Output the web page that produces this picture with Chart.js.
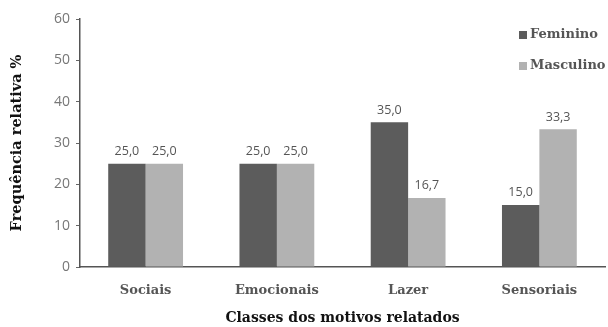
<!DOCTYPE html>
<html>
<head>
<meta charset="utf-8">
<script src="https://cdn.jsdelivr.net/npm/chart.js@4/dist/chart.umd.min.js"></script>
<style>
  html, body { margin: 0; padding: 0; background: #fff; }
  #wrap { width: 608px; height: 327px; position: relative; }
</style>
</head>
<body>
<div id="wrap"><canvas id="c" width="608" height="327"></canvas></div>
<script>
// Motive classes and relative frequency (%) by sex
const categories = ['Sociais', 'Emocionais', 'Lazer', 'Sensoriais'];
const feminino = [25.0, 25.0, 35.0, 15.0];
const masculino = [25.0, 25.0, 16.7, 33.3];
const yTicks = [0, 10, 20, 30, 40, 50, 60];

const DARK = '#5c5c5c';
const LIGHT = '#b2b2b2';
const SANS = '"Open Sans", "DejaVu Sans", sans-serif';
const SERIF = '"DejaVu Serif", "Liberation Serif", serif';

// Value labels above each bar, with decimal comma
const valueLabels = {
  id: 'valueLabels',
  afterDatasetsDraw(chart) {
    const ctx = chart.ctx;
    ctx.save();
    ctx.font = '12.5px ' + SANS;
    ctx.fillStyle = '#555';
    ctx.textAlign = 'center';
    ctx.textBaseline = 'bottom';
    chart.data.datasets.forEach((ds, i) => {
      chart.getDatasetMeta(i).data.forEach((bar, j) => {
        const txt = ds.data[j].toFixed(1).replace('.', ',');
        ctx.fillText(txt, bar.x, bar.y - 6);
      });
    });
    ctx.restore();
  }
};

// Legend drawn inside the plot, top-right corner
const innerLegend = {
  id: 'innerLegend',
  afterDraw(chart) {
    const ctx = chart.ctx;
    ctx.save();
    ctx.font = 'bold 13px ' + SERIF;
    ctx.textBaseline = 'middle';
    ctx.textAlign = 'left';
    const x = 519, ys = [35, 66];
    chart.data.datasets.forEach((ds, i) => {
      ctx.fillStyle = ds.backgroundColor;
      ctx.fillRect(x, ys[i] - 4, 8, 8);
      ctx.fillStyle = '#555';
      ctx.fillText(ds.label, x + 11, ys[i]);
    });
    ctx.restore();
  }
};

new Chart(document.getElementById('c'), {
  type: 'bar',
  data: {
    labels: categories,
    datasets: [
      { label: 'Feminino', data: feminino, backgroundColor: DARK },
      { label: 'Masculino', data: masculino, backgroundColor: LIGHT }
    ]
  },
  plugins: [valueLabels, innerLegend],
  options: {
    responsive: false,
    animation: false,
    devicePixelRatio: 1,
    layout: { padding: { top: 19, right: 3, left: 5, bottom: 0 } },
    plugins: {
      legend: { display: false },
      tooltip: { enabled: false }
    },
    datasets: {
      bar: { categoryPercentage: 0.57, barPercentage: 1.0 }
    },
    scales: {
      x: {
        grid: { display: false, drawTicks: false },
        border: { color: '#555', width: 1.5 },
        ticks: {
          font: { family: SERIF, size: 13, weight: 'bold' },
          color: '#555',
          padding: 16
        },
        title: {
          display: true,
          text: 'Classes dos motivos relatados',
          font: { family: SERIF, size: 14, weight: 'bold' },
          color: '#111',
          padding: { top: 10, bottom: 0 }
        },
        afterFit(scale) { scale.height = 60; }
      },
      y: {
        min: 0,
        max: 60,
        afterBuildTicks(scale) { scale.ticks = yTicks.map(v => ({ value: v })); },
        grid: { display: true, drawOnChartArea: false, drawTicks: true, tickLength: 4, color: '#666' },
        border: { color: '#555', width: 1.5 },
        ticks: {
          font: { family: SANS, size: 14 },
          color: '#777',
          padding: 6
        },
        title: {
          display: true,
          text: 'Frequência relativa %',
          font: { family: SERIF, size: 14.5, weight: 'bold' },
          color: '#111',
          padding: { bottom: 12 }
        },
        afterFit(scale) { scale.width = 75; }
      }
    }
  }
});
</script>
</body>
</html>
